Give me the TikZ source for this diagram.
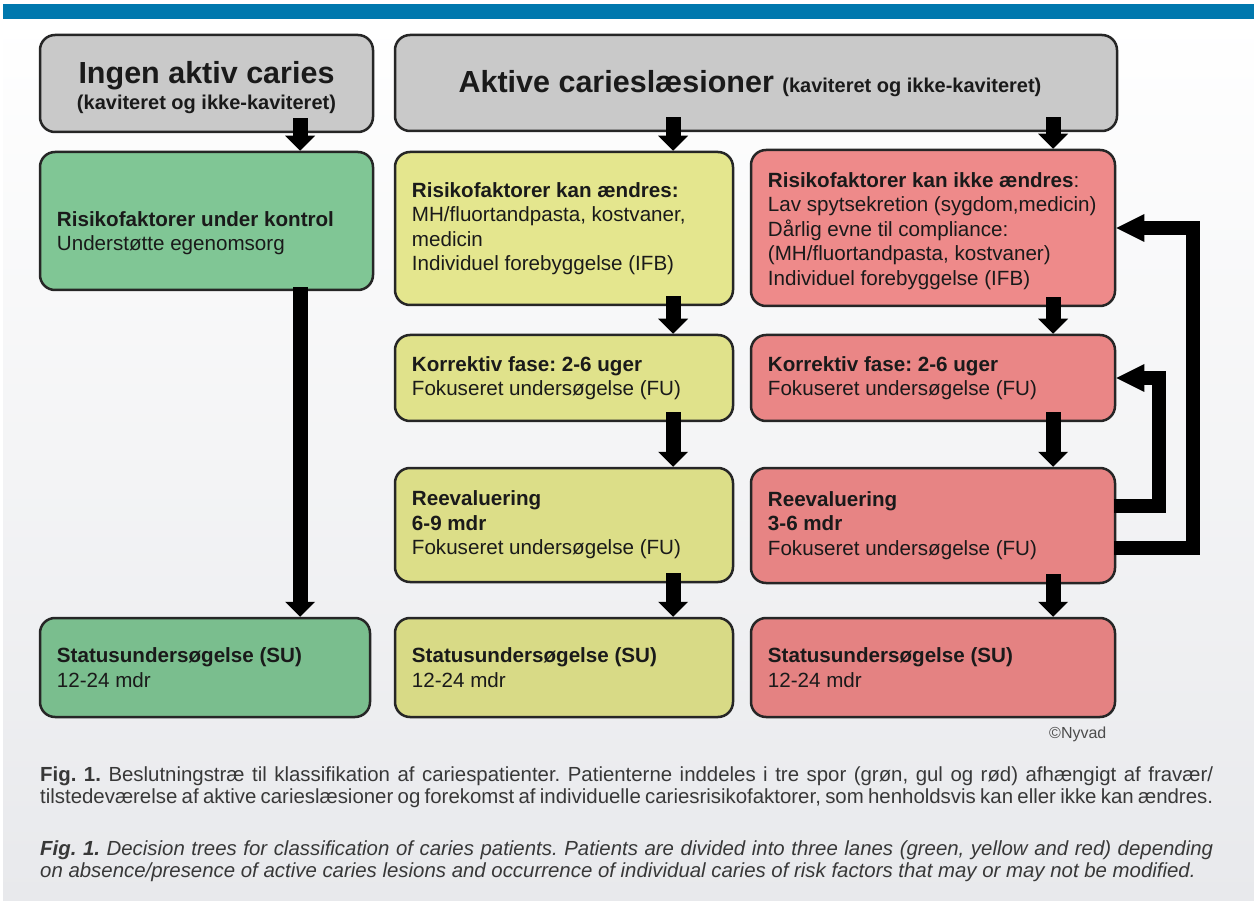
\documentclass[tikz,border=0pt]{standalone}
\usepackage{fontspec}
\setmainfont{Liberation Sans}
\usepackage{tikz}
\usetikzlibrary{arrows.meta,calc}
\frenchspacing
\definecolor{barblue}{HTML}{0078AE}
\definecolor{bgbottom}{HTML}{E8E9EC}
\definecolor{headgray}{HTML}{C9C9C9}
\definecolor{boxline}{HTML}{262626}
\definecolor{greenA}{HTML}{80C695}
\definecolor{greenB}{HTML}{7ABE8E}
\definecolor{yellowA}{HTML}{E4E68E}
\definecolor{yellowB}{HTML}{E0E28B}
\definecolor{yellowC}{HTML}{DCDE88}
\definecolor{yellowD}{HTML}{D8DA86}
\definecolor{redA}{HTML}{EE8A8A}
\definecolor{redB}{HTML}{EA8686}
\definecolor{redC}{HTML}{E78484}
\definecolor{redD}{HTML}{E48282}
\definecolor{ink}{HTML}{1A1A1A}
\definecolor{capink}{HTML}{383838}
\tikzset{
    stagebox/.style={draw=boxline,line width=2.5pt,rounded corners=15pt,inner sep=0pt},
    headtext/.style={align=center,inner sep=0pt,text=ink,font=\bfseries\fontsize{30.5}{26}\selectfont},
    boxtext/.style={anchor=west,align=left,inner sep=0pt,text=ink,
      font=\fontsize{20.6}{24.4}\selectfont},
    downarrow/.style={draw=black,line width=15pt,
      -{Triangle[width=30pt,length=15pt,line width=0pt]}},
    backarrow/.style={draw=black,line width=14pt,line join=miter,
      -{Triangle[width=28pt,length=28pt,line width=0pt]}},
    captext/.style={anchor=base west,inner sep=0pt,text=capink,
      font=\fontsize{20.4}{23}\selectfont}
}

\begin{document}
\begin{tikzpicture}[x=1pt,y=-1pt]
  \useasboundingbox (0,0) rectangle (1254,901);
  \fill[white] (0,0) rectangle (1254,901);
  \shade[top color=white,bottom color=bgbottom] (3,19) rectangle (1254,901);
  \fill[barblue] (3,4) rectangle (1254,19);

  % head row
  \node[stagebox,fill=headgray,minimum width=333pt,minimum height=97pt] (none) at (206.5,83.5) {};
  \node[stagebox,fill=headgray,minimum width=722pt,minimum height=96pt] (active) at (756,83) {};
  \node[headtext] (nonet) at ($(none.center)+(0,4)$) {Ingen aktiv caries\\\fontsize{20}{26}\selectfont(kaviteret og ikke-kaviteret)};
  \node[headtext] (activet) at ($(active.center)+(-6,1)$) {Aktive carieslæsioner {\fontsize{20}{26}\selectfont(kaviteret og ikke-kaviteret)}};

  % green lane
  \node[stagebox,fill=greenA,minimum width=333pt,minimum height=138pt] (g1) at (206.5,221) {};
  \node[stagebox,fill=greenB,minimum width=330pt,minimum height=99pt] (g2) at (205,667.5) {};

  % yellow lane
  \node[stagebox,fill=yellowA,minimum width=338pt,minimum height=153pt] (y1) at (564,228.5) {};
  \node[stagebox,fill=yellowB,minimum width=338pt,minimum height=86pt] (y2) at (564,378) {};
  \node[stagebox,fill=yellowC,minimum width=338pt,minimum height=114pt] (y3) at (564,525) {};
  \node[stagebox,fill=yellowD,minimum width=338pt,minimum height=99pt] (y4) at (564,667.5) {};

  % red lane
  \node[stagebox,fill=redA,minimum width=364pt,minimum height=156pt] (r1) at (933,228) {};
  \node[stagebox,fill=redB,minimum width=364pt,minimum height=86pt] (r2) at (933,378) {};
  \node[stagebox,fill=redC,minimum width=364pt,minimum height=115pt] (r3) at (933,525.5) {};
  \node[stagebox,fill=redD,minimum width=364pt,minimum height=99pt] (r4) at (933,667.5) {};

  \node[boxtext] (g1t) at ($(g1.west)+(18,12)$) {\textbf{Risikofaktorer under kontrol}\\Understøtte egenomsorg};
  \node[boxtext] (g2t) at ($(g2.west)+(18,0)$) {\textbf{Statusundersøgelse (SU)}\\12-24 mdr};

  \node[boxtext] (y1t) at ($(y1.west)+(18,0)$) {\textbf{Risikofaktorer kan ændres:}\\MH/fluortandpasta, kostvaner,\\medicin\\Individuel forebyggelse (IFB)};
  \node[boxtext] (y2t) at ($(y2.west)+(18,0)$) {\textbf{Korrektiv fase: 2-6 uger}\\Fokuseret undersøgelse (FU)};
  \node[boxtext] (y3t) at ($(y3.west)+(18,0)$) {\textbf{Reevaluering}\\\textbf{6-9 mdr}\\Fokuseret undersøgelse (FU)};
  \node[boxtext] (y4t) at ($(y4.west)+(18,0)$) {\textbf{Statusundersøgelse (SU)}\\12-24 mdr};

  \node[boxtext] (r1t) at ($(r1.west)+(18,3)$) {\textbf{Risikofaktorer kan ikke ændres}:\\Lav spytsekretion (sygdom,medicin)\\Dårlig evne til compliance:\\(MH/fluortandpasta, kostvaner)\\Individuel forebyggelse (IFB)};
  \node[boxtext] (r2t) at ($(r2.west)+(18,0)$) {\textbf{Korrektiv fase: 2-6 uger}\\Fokuseret undersøgelse (FU)};
  \node[boxtext] (r3t) at ($(r3.west)+(18,0)$) {\textbf{Reevaluering}\\\textbf{3-6 mdr}\\Fokuseret undersøgelse (FU)};
  \node[boxtext] (r4t) at ($(r4.west)+(18,0)$) {\textbf{Statusundersøgelse (SU)}\\12-24 mdr};

  % arrows down each lane
  \coordinate (gcol) at (300,0);
  \coordinate (ycol) at (673,0);
  \coordinate (rcol) at (1053,0);
  \draw[downarrow] ($(none.south -| gcol)+(0,-15)$) -- (g1.north -| gcol);
  \draw[downarrow] ($(g1.south -| gcol)+(0,-4)$) -- (g2.north -| gcol);
  \draw[downarrow] ($(active.south -| ycol)+(0,-15)$) -- (y1.north -| ycol);
  \draw[downarrow] ($(active.south -| rcol)+(0,-15)$) -- (r1.north -| rcol);
  \foreach \from/\to/\col in {y1/y2/ycol,y2/y3/ycol,y3/y4/ycol,r1/r2/rcol,r2/r3/rcol,r3/r4/rcol}
    \draw[downarrow] ($(\from.south -| \col)+(0,-10)$) -- (\to.north -| \col);

  % loops back from reevaluation
  \draw[backarrow] ($(r3.east)+(-2,22)$) -- ++(79,0) |- (r1.east);
  \draw[backarrow] ($(r3.east)+(-2,-20)$) -- ++(45,0) |- (r2.east);

  \node[anchor=base west,inner sep=0pt,text=black!70,font=\fontsize{16}{18}\selectfont] (credit) at (1049,738) {©Nyvad};

  \node[captext] (capda1) at (40,781) {\makebox[1173pt][s]{\textbf{Fig. 1.} Beslutningstræ til klassifikation af cariespatienter. Patienterne inddeles i tre spor (grøn, gul og rød) afhængigt af fravær/}};
  \node[captext] (capda2) at (40,803) {\makebox[1173pt][s]{tilstedeværelse af aktive carieslæsioner og forekomst af individuelle cariesrisikofaktorer, som henholdsvis kan eller ikke kan ændres.}};
  \node[captext] (capen1) at (40,855) {\itshape\makebox[1173pt][s]{\textbf{Fig. 1.} Decision trees for classification of caries patients. Patients are divided into three lanes (green, yellow and red) depending}};
  \node[captext] (capen2) at (40,877) {\itshape on absence/presence of active caries lesions and occurrence of individual caries of risk factors that may or may not be modified.};
\end{tikzpicture}
\end{document}
